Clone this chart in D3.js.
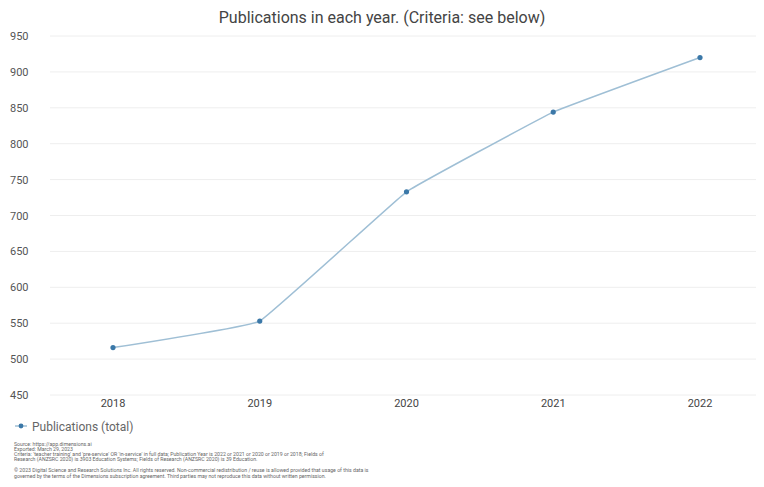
<!DOCTYPE html>
<html><head><meta charset="utf-8">
<script src="https://cdn.jsdelivr.net/npm/d3@7"></script>
<style>body{margin:0;background:#fff}svg{display:block;font-family:Roboto,"Noto Sans",sans-serif}</style>
</head><body>
<script>
const years = ["2018","2019","2020","2021","2022"];
const publications = [516, 553, 733, 844, 920];
const yTicks = [450,500,550,600,650,700,750,800,850,900,950];
const title = "Publications in each year. (Criteria: see below)";
const legendLabel = "Publications (total)";
const footerLines = [
  "Source: https://app.dimensions.ai",
  "Exported: March 29, 2023",
  "Criteria: 'teacher training' and 'pre-service' OR 'in-service' in full data; Publication Year is 2022 or 2021 or 2020 or 2019 or 2018; Fields of",
  "Research (ANZSRC 2020) is 3903 Education Systems; Fields of Research (ANZSRC 2020) is 39 Education."
];
const copyrightLines = [
  "© 2023 Digital Science and Research Solutions Inc. All rights reserved. Non-commercial redistribution / reuse is allowed provided that usage of this data is",
  "governed by the terms of the Dimensions subscription agreement. Third parties may not reproduce this data without written permission."
];

const W = 764, H = 487;
const svg = d3.select("body").append("svg").attr("width", W).attr("height", H);

const x = d3.scalePoint().domain(years).range([113, 700]);
const y = d3.scaleLinear().domain([450, 950]).range([395, 36]);

svg.append("text").attr("x", 382).attr("y", 23).attr("text-anchor", "middle")
  .attr("font-size", 16).attr("fill", "#444").text(title);

svg.append("g").selectAll("line").data(yTicks).join("line")
  .attr("x1", 50).attr("x2", 756)
  .attr("y1", d => y(d)).attr("y2", d => y(d))
  .attr("stroke", "#eeeeee").attr("stroke-width", 1);

svg.append("g").selectAll("text").data(yTicks).join("text")
  .attr("x", 10).attr("y", d => y(d) + 4)
  .attr("font-size", 11).attr("fill", "#555").text(d => d);

svg.append("g").selectAll("text").data(years).join("text")
  .attr("x", d => x(d)).attr("y", 407).attr("text-anchor", "middle")
  .attr("font-size", 11).attr("fill", "#444").text(d => d);

const data = years.map((yr, i) => ({yr, v: publications[i]}));
const line = d3.line().x(d => x(d.yr)).y(d => y(d.v)).curve(d3.curveCardinal.tension(0.8));
svg.append("path").datum(data).attr("d", line)
  .attr("fill", "none").attr("stroke", "#9fbfd5").attr("stroke-width", 1.5);
svg.append("g").selectAll("circle").data(data).join("circle")
  .attr("cx", d => x(d.yr)).attr("cy", d => y(d.v)).attr("r", 2.6)
  .attr("fill", "#3b78a8");

const lg = svg.append("g").attr("transform", "translate(0,426)");
lg.append("line").attr("x1", 15).attr("x2", 27).attr("y1", 0).attr("y2", 0)
  .attr("stroke", "#9fbfd5").attr("stroke-width", 1.5);
lg.append("circle").attr("cx", 21).attr("cy", 0).attr("r", 2.4).attr("fill", "#3b78a8");
lg.append("text").attr("x", 32).attr("y", 4.5).attr("font-size", 12).attr("fill", "#666").text(legendLabel);

svg.append("g").selectAll("text").data(footerLines).join("text")
  .attr("x", 14).attr("y", (d, i) => 446 + i * 5)
  .attr("font-size", 5.2).attr("fill", "#666").text(d => d);
svg.append("g").selectAll("text").data(copyrightLines).join("text")
  .attr("x", 14).attr("y", (d, i) => 472 + i * 5.5)
  .attr("font-size", 5.2).attr("fill", "#666").text(d => d);
</script>
</body></html>
